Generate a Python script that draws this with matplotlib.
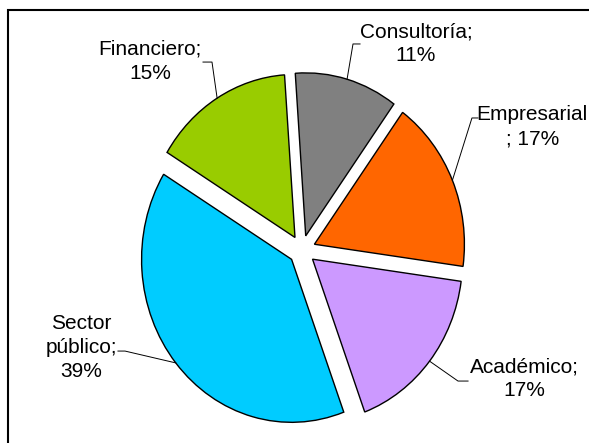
import numpy as np
import matplotlib
matplotlib.use("Agg")
import matplotlib.pyplot as plt
from matplotlib.patches import Rectangle

# ---- data ----
categories = ["Consultoría", "Empresarial", "Académico", "Sector público", "Financiero"]
values = [11, 17, 17, 39, 15]
label_texts = ["Consultoría;\n11%", "Empresarial\n; 17%", "Académico;\n17%",
               "Sector\npúblico;\n39%", "Financiero;\n15%"]
colors = ["#808080", "#FF6600", "#CC99FF", "#00CCFF", "#99CC00"]

# ---- layout (data coords of label blocks and leader elbows) ----
label_pos = [(0.76, 1.264), (1.535, 0.755), (1.48, -0.79), (-1.473, -0.60), (-1.013, 1.157)]
elbow_pts = [((0.387, 1.264), (0.34, 1.264)),
             ((1.173, 0.81), (1.133, 0.81)),
             ((1.107, -0.804), (1.04, -0.804)),
             ((-1.227, -0.62), (-1.18, -0.62)),
             ((-0.66, 1.153), (-0.60, 1.153))]

plt.rcParams['font.family'] = ['Liberation Sans', 'DejaVu Sans']

W, H = 589, 443
fig = plt.figure(figsize=(W / 100, H / 100), dpi=100)
fig.patch.set_facecolor("white")

# axes mapping: 150 px/unit in x, 163 px/unit in y, center at (302, 250) from top
xr, yr = 1.3, 1.25
pxu, pyu = 150, 163
cx, cy = 302, 250
aw, ah = 2 * xr * pxu, 2 * yr * pyu
left = cx - aw / 2
bottom = (H - cy) - ah / 2
ax = fig.add_axes([left / W, bottom / H, aw / W, ah / H])

wedges, _ = ax.pie(values, colors=colors, startangle=94, counterclock=False,
                   explode=[0.09] * len(values),
                   wedgeprops=dict(edgecolor="black", linewidth=1.0))
ax.set_aspect('auto')
ax.set_xlim(-xr, xr)
ax.set_ylim(-yr, yr)
ax.axis('off')

for w, txt, lp, (e1, e2) in zip(wedges, label_texts, label_pos, elbow_pts):
    ang = np.deg2rad((w.theta1 + w.theta2) / 2)
    wx, wy = w.center
    sx = wx + w.r * np.cos(ang)
    sy = wy + w.r * np.sin(ang)
    ax.plot([e1[0], e2[0], sx], [e1[1], e2[1], sy], color="black", lw=0.7,
            clip_on=False, zorder=1)
    ax.text(lp[0], lp[1], txt, ha="center", va="center", fontsize=15,
            linespacing=1.33, color="black", clip_on=False)

# chart border
fig.patches.append(Rectangle((8 / W, -0.1), 1.2, (H - 10) / H + 0.1,
                             transform=fig.transFigure, fill=False,
                             edgecolor="black", linewidth=1.5))

fig.savefig("out.png", dpi=100)
